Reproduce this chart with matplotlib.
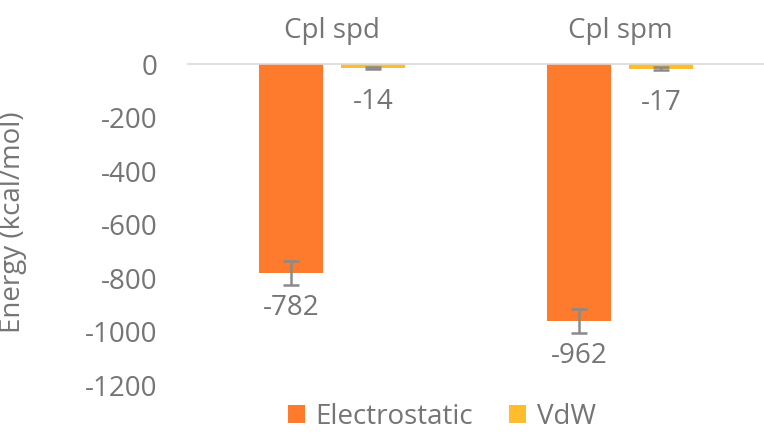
import numpy as np
import matplotlib.pyplot as plt

# ── Data ──────────────────────────────────────────────────────────────────────
categories = ["Cpl spd", "Cpl spm"]
electrostatic = [-782, -962]
electrostatic_err = [45, 45]
vdw = [-14, -17]
vdw_err = [4, 4]

# ── Style ─────────────────────────────────────────────────────────────────────
ORANGE = "#FE7B2E"
YELLOW = "#FFBD2E"
TEXT = "#757575"
AXIS = "#d9d9d9"
ERR = "#8a8a8a"
FS = 20

plt.rcParams["font.family"] = ["Open Sans", "DejaVu Sans"]
plt.rcParams["axes.unicode_minus"] = False

fig = plt.figure(figsize=(7.64, 4.48), dpi=100)
ax = fig.add_axes([188 / 764, 1 - 385 / 448, 576 / 764, 321 / 448])

x = np.arange(len(categories))
w = 0.22
off = 0.142

b1 = ax.bar(x - off, electrostatic, w, color=ORANGE, label="Electrostatic",
            yerr=electrostatic_err, error_kw=dict(ecolor=ERR, elinewidth=1.8,
                                                  capsize=6, capthick=1.8))
b2 = ax.bar(x + off, vdw, w, color=YELLOW, label="VdW",
            yerr=vdw_err, error_kw=dict(ecolor=ERR, elinewidth=1.8,
                                        capsize=6, capthick=1.8))

# data labels below bar ends
for bars, vals in [(b1, electrostatic), (b2, vdw)]:
    for rect, v in zip(bars, vals):
        ax.annotate(f"{v}", (rect.get_x() + rect.get_width() / 2, v),
                    xytext=(0, -25), textcoords="offset points",
                    ha="center", va="center", fontsize=FS, color=TEXT)

ax.set_xlim(-0.5, 1.5)
ax.set_ylim(-1200, 0)
ax.set_yticks(np.arange(-1200, 1, 200))

ax.xaxis.tick_top()
ax.set_xticks(x)
ax.set_xticklabels(categories)
ax.tick_params(axis="x", length=0, pad=14, labelsize=FS, labelcolor=TEXT)
ax.tick_params(axis="y", length=0, pad=22, labelsize=FS, labelcolor=TEXT)

for s in ["left", "right", "bottom"]:
    ax.spines[s].set_visible(False)
ax.spines["top"].set_color(AXIS)
ax.spines["top"].set_linewidth(1.2)

fig.text(13 / 764, 1 - 222 / 448, "Energy (kcal/mol)", rotation=90,
         ha="center", va="center", fontsize=FS, color=TEXT)

fig.legend(handles=[b1, b2], labels=["Electrostatic", "VdW"], loc="center",
           bbox_to_anchor=(442 / 764, 1 - 417 / 448), ncol=2, frameon=False,
           fontsize=FS, labelcolor=TEXT, handlelength=0.6, handleheight=0.6,
           handletextpad=0.4, columnspacing=1.3)

fig.savefig("out.png", dpi=100)
